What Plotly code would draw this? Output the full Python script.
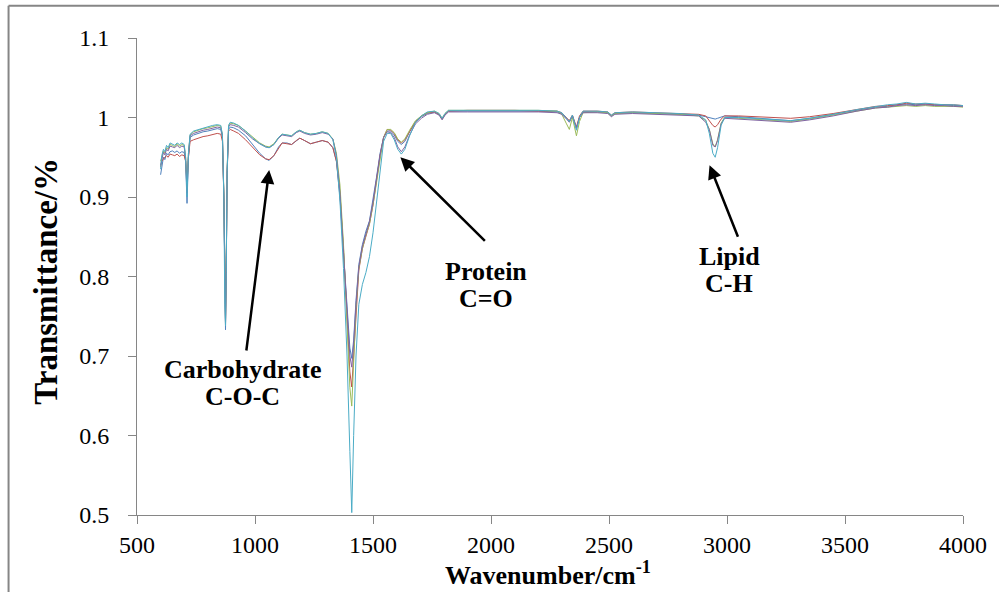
import plotly.graph_objects as go

# Wavenumber grid (cm-1) shared by all five spectra
wavenumber = [
    600, 605, 612, 618, 625, 632, 640, 650, 660, 670, 680, 690, 700, 706, 712, 718, 725,
    740, 760, 780, 800, 820, 840, 855, 862, 868, 872, 875, 878, 882, 888, 895, 910, 930,
    960, 990, 1020, 1045, 1060, 1080, 1100, 1115, 1135, 1155, 1175, 1190, 1210, 1235,
    1260, 1285, 1310, 1330, 1345, 1360, 1375, 1390, 1402, 1410, 1418, 1428, 1440, 1455,
    1470, 1485, 1500, 1515, 1530, 1545, 1560, 1575, 1590, 1605, 1620, 1635, 1655, 1680,
    1705, 1730, 1760, 1780, 1793, 1805, 1820, 1900, 2000, 2100, 2200, 2280, 2300, 2320,
    2332, 2345, 2362, 2375, 2390, 2450, 2495, 2510, 2525, 2600, 2700, 2800, 2880, 2910,
    2925, 2940, 2950, 2960, 2975, 2990, 3050, 3150, 3270, 3350, 3450, 3550, 3630, 3680,
    3720, 3760, 3800, 3840, 3880, 3920, 3960, 4000,
]

spectrum_1 = [
    0.928, 0.940, 0.950, 0.947, 0.955, 0.953, 0.957, 0.958, 0.956, 0.958, 0.955, 0.957, 0.956, 0.945, 0.892, 0.950, 0.975,
    0.978, 0.980, 0.982, 0.983, 0.985, 0.986, 0.985, 0.975, 0.900, 0.760, 0.733, 0.800, 0.930, 0.985, 0.988, 0.987, 0.984,
    0.977, 0.966, 0.955, 0.948, 0.946, 0.952, 0.963, 0.968, 0.968, 0.966, 0.971, 0.974, 0.971, 0.967,
    0.969, 0.971, 0.969, 0.962, 0.945, 0.900, 0.830, 0.760, 0.710, 0.697, 0.720, 0.770, 0.815, 0.840,
    0.857, 0.870, 0.895, 0.925, 0.955, 0.975, 0.983, 0.983, 0.978, 0.970, 0.966, 0.970, 0.982, 0.994,
    1.001, 1.005, 1.007, 1.004, 0.998, 1.004, 1.008, 1.008, 1.008, 1.008, 1.008, 1.007, 1.005, 0.999,
    0.995, 1.002, 0.986, 1.000, 1.007, 1.007, 1.006, 1.002, 1.005, 1.006, 1.005, 1.004, 1.003, 1.001,
    1.000, 0.999, 0.998, 0.999, 1.001, 1.002, 1.001, 0.999, 0.996, 0.999, 1.004, 1.009, 1.013, 1.014,
    1.016, 1.017, 1.016, 1.017, 1.016, 1.016, 1.015, 1.015,
]

spectrum_2 = [
    0.938, 0.945, 0.948, 0.950, 0.952, 0.950, 0.954, 0.953, 0.952, 0.954, 0.951, 0.953, 0.952, 0.945, 0.918, 0.950, 0.970,
    0.972, 0.974, 0.976, 0.977, 0.979, 0.980, 0.979, 0.970, 0.900, 0.765, 0.740, 0.805, 0.930, 0.983, 0.985, 0.983, 0.980,
    0.972, 0.962, 0.953, 0.948, 0.947, 0.952, 0.962, 0.968, 0.967, 0.966, 0.971, 0.974, 0.971, 0.967,
    0.969, 0.971, 0.969, 0.962, 0.945, 0.905, 0.835, 0.755, 0.680, 0.661, 0.700, 0.760, 0.808, 0.835,
    0.852, 0.866, 0.890, 0.922, 0.952, 0.975, 0.985, 0.984, 0.980, 0.972, 0.968, 0.972, 0.983, 0.995,
    1.002, 1.006, 1.007, 1.004, 0.998, 1.004, 1.008, 1.009, 1.009, 1.009, 1.008, 1.008, 1.006, 1.000,
    0.996, 1.003, 0.988, 1.002, 1.008, 1.008, 1.007, 1.003, 1.006, 1.007, 1.006, 1.005, 1.004, 1.002,
    0.996, 0.990, 0.988, 0.991, 0.998, 1.002, 1.002, 1.001, 0.999, 1.001, 1.005, 1.010, 1.014, 1.015,
    1.016, 1.018, 1.017, 1.017, 1.016, 1.016, 1.016, 1.015,
]

spectrum_3 = [
    0.945, 0.950, 0.958, 0.955, 0.962, 0.960, 0.966, 0.965, 0.963, 0.967, 0.964, 0.966, 0.965, 0.950, 0.912, 0.955, 0.978,
    0.982, 0.984, 0.986, 0.987, 0.989, 0.990, 0.989, 0.978, 0.905, 0.770, 0.745, 0.810, 0.935, 0.990, 0.993, 0.992, 0.990,
    0.983, 0.975, 0.968, 0.964, 0.963, 0.967, 0.975, 0.979, 0.978, 0.977, 0.982, 0.984, 0.981, 0.979,
    0.980, 0.982, 0.980, 0.973, 0.955, 0.915, 0.840, 0.750, 0.660, 0.637, 0.690, 0.760, 0.810, 0.835,
    0.852, 0.866, 0.890, 0.920, 0.950, 0.975, 0.985, 0.985, 0.981, 0.973, 0.969, 0.973, 0.984, 0.996,
    1.002, 1.006, 1.008, 1.005, 0.999, 1.005, 1.009, 1.009, 1.009, 1.009, 1.009, 1.008, 1.004, 0.992,
    0.985, 1.000, 0.977, 0.995, 1.006, 1.007, 1.006, 1.002, 1.005, 1.006, 1.005, 1.004, 1.002, 0.996,
    0.985, 0.967, 0.963, 0.972, 0.993, 1.000, 0.999, 0.997, 0.995, 0.998, 1.003, 1.008, 1.012, 1.013,
    1.014, 1.015, 1.014, 1.015, 1.014, 1.014, 1.014, 1.013,
]

spectrum_4 = [
    0.940, 0.948, 0.956, 0.953, 0.960, 0.958, 0.964, 0.963, 0.962, 0.965, 0.962, 0.964, 0.963, 0.948, 0.905, 0.953, 0.977,
    0.980, 0.982, 0.984, 0.985, 0.987, 0.988, 0.987, 0.977, 0.902, 0.768, 0.742, 0.808, 0.933, 0.988, 0.991, 0.990, 0.988,
    0.981, 0.973, 0.967, 0.963, 0.962, 0.966, 0.974, 0.978, 0.977, 0.976, 0.981, 0.983, 0.980, 0.978,
    0.979, 0.981, 0.979, 0.973, 0.952, 0.905, 0.830, 0.750, 0.700, 0.686, 0.715, 0.765, 0.812, 0.838,
    0.855, 0.869, 0.893, 0.923, 0.953, 0.975, 0.982, 0.981, 0.975, 0.963, 0.957, 0.963, 0.978, 0.992,
    0.999, 1.004, 1.006, 1.003, 0.997, 1.003, 1.007, 1.007, 1.007, 1.007, 1.007, 1.006, 1.004, 0.998,
    0.994, 1.002, 0.987, 1.000, 1.006, 1.006, 1.005, 1.001, 1.004, 1.005, 1.004, 1.003, 1.002, 0.994,
    0.985, 0.965, 0.963, 0.971, 0.992, 0.999, 0.998, 0.996, 0.994, 0.997, 1.002, 1.008, 1.012, 1.013,
    1.015, 1.016, 1.015, 1.016, 1.015, 1.015, 1.014, 1.014,
]

spectrum_5 = [
    0.935, 0.952, 0.960, 0.957, 0.965, 0.962, 0.968, 0.966, 0.965, 0.968, 0.966, 0.968, 0.966, 0.950, 0.900, 0.955, 0.979,
    0.983, 0.985, 0.987, 0.988, 0.990, 0.991, 0.990, 0.978, 0.900, 0.765, 0.738, 0.805, 0.932, 0.990, 0.994, 0.993, 0.990,
    0.983, 0.974, 0.967, 0.963, 0.962, 0.966, 0.975, 0.979, 0.978, 0.977, 0.982, 0.984, 0.981, 0.979,
    0.980, 0.982, 0.980, 0.972, 0.950, 0.895, 0.810, 0.700, 0.580, 0.503, 0.600, 0.700, 0.765, 0.790,
    0.805, 0.825, 0.855, 0.895, 0.935, 0.970, 0.980, 0.980, 0.972, 0.960, 0.954, 0.960, 0.977, 0.994,
    1.002, 1.007, 1.008, 1.005, 0.999, 1.005, 1.009, 1.009, 1.009, 1.009, 1.009, 1.008, 1.006, 0.999,
    0.995, 1.003, 0.984, 1.000, 1.008, 1.008, 1.007, 1.003, 1.006, 1.007, 1.006, 1.005, 1.003, 0.997,
    0.980, 0.955, 0.950, 0.962, 0.990, 1.000, 1.000, 0.998, 0.996, 0.999, 1.004, 1.010, 1.014, 1.016,
    1.017, 1.019, 1.017, 1.018, 1.017, 1.016, 1.016, 1.015,
]

series = [
    (spectrum_1, "#4F81BD"),
    (spectrum_2, "#C0504D"),
    (spectrum_3, "#9BBB59"),
    (spectrum_4, "#8064A2"),
    (spectrum_5, "#4BACC6"),
]

x_ticks = [500, 1000, 1500, 2000, 2500, 3000, 3500, 4000]
y_ticks = [0.5, 0.6, 0.7, 0.8, 0.9, 1.0, 1.1]
y_tick_labels = ["0.5", "0.6", "0.7", "0.8", "0.9", "1", "1.1"]

SERIF = "Times New Roman, Liberation Serif, serif"
AXIS_GREY = "#868686"

fig = go.Figure()
for values, color in series:
    fig.add_trace(go.Scatter(
        x=wavenumber, y=values, mode="lines",
        line=dict(color=color, width=1), showlegend=False, hoverinfo="skip",
    ))

# Band assignments: bold text lines and arrows pointing to the absorption bands
labels = [
    ("Carbohydrate", 946, 0.683), ("C-O-C", 946, 0.649),
    ("Protein", 1978, 0.806), ("C=O", 1978, 0.772),
    ("Lipid", 3010, 0.825), ("C-H", 3010, 0.791),
]
annotations = [
    dict(x=x, y=y, xref="x", yref="y", text=f"<b>{t}</b>", showarrow=False,
         font=dict(family=SERIF, size=26, color="black"), xanchor="center", yanchor="middle")
    for t, x, y in labels
]
arrows = [
    (1060, 0.934, -23, 182),
    (1616, 0.950, 86, 85),
    (2926, 0.940, 29, 73),
]
for x, y, ax, ay in arrows:
    annotations.append(dict(
        x=x, y=y, xref="x", yref="y", ax=ax, ay=ay, text="", showarrow=True,
        arrowhead=2, arrowsize=1.1, arrowwidth=2.5, arrowcolor="black",
    ))

# Axis titles
annotations.append(dict(
    x=0.498, y=-0.122, xref="paper", yref="paper", text="<b>Wavenumber/cm<sup>-1</sup></b>",
    showarrow=False, font=dict(family=SERIF, size=26, color="black"),
    xanchor="center", yanchor="middle",
))
annotations.append(dict(
    x=-0.1095, y=0.49, xref="paper", yref="paper", text="<b>Transmittance/%</b>",
    showarrow=False, textangle=-90, font=dict(family=SERIF, size=33, color="black"),
    xanchor="center", yanchor="middle",
))

fig.update_layout(
    width=999, height=592,
    margin=dict(l=137, r=31, t=38, b=77),
    paper_bgcolor="white", plot_bgcolor="white",
    annotations=annotations,
    shapes=[
        dict(type="line", xref="paper", yref="paper", x0=-0.1555, x1=1.1, y0=1.0675, y1=1.0675,
             line=dict(color=AXIS_GREY, width=2), layer="below"),
        dict(type="line", xref="paper", yref="paper", x0=-0.1555, x1=-0.1555, y0=-0.3, y1=1.0675,
             line=dict(color=AXIS_GREY, width=2), layer="below"),
    ],
)
fig.update_xaxes(
    range=[500, 4000], tickvals=x_ticks, showgrid=False, zeroline=False,
    showline=True, linecolor=AXIS_GREY, linewidth=1,
    ticks="outside", ticklen=8, tickcolor=AXIS_GREY,
    tickfont=dict(family=SERIF, size=24, color="black"),
)
fig.update_yaxes(
    range=[0.5, 1.1], tickvals=y_ticks, ticktext=y_tick_labels, showgrid=False, zeroline=False,
    showline=True, linecolor=AXIS_GREY, linewidth=1,
    ticks="outside", ticklen=8, tickcolor=AXIS_GREY, ticklabelstandoff=14,
    tickfont=dict(family=SERIF, size=24, color="black"),
)

fig.write_html("out.html")
